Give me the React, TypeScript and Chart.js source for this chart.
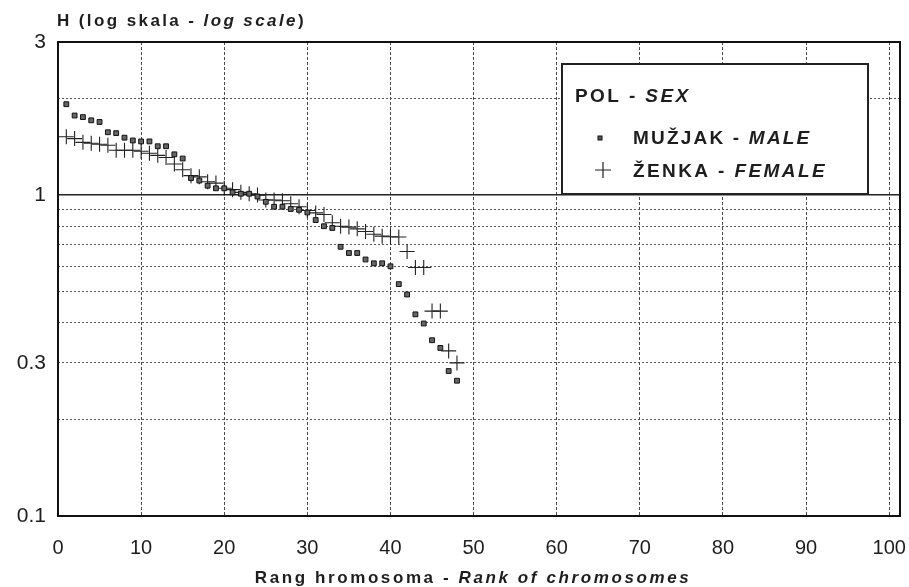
import React, { useEffect, useRef } from "react";
import { Chart, registerables } from "chart.js";

Chart.register(...registerables);

// ---- data ----
const ranks = [1, 2, 3, 4, 5, 6, 7, 8, 9, 10, 11, 12, 13, 14, 15, 16, 17, 18, 19, 20, 21, 22, 23, 24, 25, 26, 27, 28, 29, 30, 31, 32, 33, 34, 35, 36, 37, 38, 39, 40, 41, 42, 43, 44, 45, 46, 47, 48];

const maleH = [1.92, 1.77, 1.75, 1.71, 1.69, 1.57, 1.56, 1.51, 1.48, 1.47, 1.47, 1.42, 1.42, 1.34, 1.30, 1.13, 1.11, 1.07, 1.05, 1.05, 1.02, 1.01, 1.01, 0.99, 0.953, 0.92, 0.92, 0.905, 0.90, 0.883, 0.836, 0.80, 0.79, 0.69, 0.66, 0.66, 0.63, 0.613, 0.613, 0.60, 0.528, 0.49, 0.425, 0.398, 0.353, 0.334, 0.283, 0.264];

const femaleH = [1.52, 1.50, 1.46, 1.45, 1.44, 1.43, 1.38, 1.38, 1.38, 1.37, 1.35, 1.33, 1.31, 1.25, 1.20, 1.15, 1.14, 1.10, 1.09, 1.05, 1.04, 1.02, 1.01, 1.00, 0.965, 0.965, 0.96, 0.94, 0.92, 0.895, 0.88, 0.87, 0.82, 0.80, 0.795, 0.785, 0.77, 0.755, 0.745, 0.742, 0.74, 0.667, 0.595, 0.595, 0.435, 0.435, 0.327, 0.30];

const xTickValues = [0, 10, 20, 30, 40, 50, 60, 70, 80, 90, 100];
const yGridValues = [0.1, 0.2, 0.3, 0.4, 0.5, 0.6, 0.7, 0.8, 0.9, 1, 2, 3];
const yTickLabels = [0.1, 0.3, 1, 3];

const yTitleParts = [
  { text: "H (log skala - ", italic: false },
  { text: "log scale", italic: true },
  { text: ")", italic: false },
];
const xTitleParts = [
  { text: "Rang hromosoma - ", italic: false },
  { text: "Rank of chromosomes", italic: true },
];
const legendTitleParts = [
  { text: "POL - ", italic: false },
  { text: "SEX", italic: true },
];
const maleLabelParts = [
  { text: "MUŽJAK - ", italic: false },
  { text: "MALE", italic: true },
];
const femaleLabelParts = [
  { text: "ŽENKA - ", italic: false },
  { text: "FEMALE", italic: true },
];

const FONT = '"Liberation Sans", Arial, sans-serif';
const INK = "#1e1e1e";

type Part = { text: string; italic: boolean };

function drawParts(
  ctx: CanvasRenderingContext2D,
  parts: Part[],
  x: number,
  y: number,
  size: number,
  spacing: number,
  align: "left" | "center"
) {
  ctx.save();
  (ctx as any).letterSpacing = spacing + "px";
  ctx.textBaseline = "alphabetic";
  ctx.textAlign = "left";
  ctx.fillStyle = INK;
  const widths = parts.map((p) => {
    ctx.font = `${p.italic ? "italic " : ""}bold ${size}px ${FONT}`;
    return ctx.measureText(p.text).width;
  });
  const total = widths.reduce((a, b) => a + b, 0);
  let cx = align === "center" ? x - total / 2 : x;
  parts.forEach((p, i) => {
    ctx.font = `${p.italic ? "italic " : ""}bold ${size}px ${FONT}`;
    ctx.fillText(p.text, cx, y);
    cx += widths[i];
  });
  ctx.restore();
}

const decorPlugin = {
  id: "decor",
  afterDraw(chart: any) {
    const ctx: CanvasRenderingContext2D = chart.ctx;
    const a = chart.chartArea;
    // frame
    ctx.save();
    ctx.strokeStyle = "#111";
    ctx.lineWidth = 2;
    ctx.strokeRect(a.left, a.top, a.right - a.left, a.bottom - a.top);
    ctx.restore();

    // titles
    drawParts(ctx, yTitleParts, 57, 26, 17, 2.4, "left");
    drawParts(ctx, xTitleParts, 473, 583, 17, 2.6, "center");

    // legend box
    ctx.save();
    ctx.fillStyle = "#fff";
    ctx.fillRect(562, 64, 306, 130);
    ctx.strokeStyle = "#222";
    ctx.lineWidth = 2;
    ctx.strokeRect(562, 64, 306, 130);
    ctx.restore();

    drawParts(ctx, legendTitleParts, 575, 102, 19, 2.4, "left");
    drawParts(ctx, maleLabelParts, 633, 144, 19, 2.2, "left");
    drawParts(ctx, femaleLabelParts, 633, 177, 19, 2.4, "left");

    // legend markers
    ctx.save();
    ctx.fillStyle = "#555";
    ctx.strokeStyle = "#111";
    ctx.lineWidth = 1;
    ctx.fillRect(598, 136, 4, 4);
    ctx.strokeRect(598, 136, 4, 4);
    ctx.beginPath();
    ctx.moveTo(595, 170);
    ctx.lineTo(611, 170);
    ctx.moveTo(603, 162);
    ctx.lineTo(603, 178);
    ctx.lineWidth = 1.2;
    ctx.strokeStyle = "#222";
    ctx.stroke();
    ctx.restore();
  },
};

export default function App() {
  const ref = useRef<HTMLCanvasElement | null>(null);

  useEffect(() => {
    if (!ref.current) return;
    const chart = new Chart(ref.current, {
      type: "scatter",
      data: {
        datasets: [
          {
            label: "MUŽJAK - MALE",
            data: ranks.map((r, i) => ({ x: r, y: maleH[i] })),
            pointStyle: "rect",
            pointRadius: 3.4,
            backgroundColor: "#666",
            borderColor: "#111",
            borderWidth: 1,
            showLine: false,
          },
          {
            label: "ŽENKA - FEMALE",
            data: ranks.map((r, i) => ({ x: r, y: femaleH[i] })),
            pointStyle: "cross",
            pointRadius: 7.5,
            borderColor: "#222",
            borderWidth: 1.1,
            showLine: false,
          },
        ],
      },
      options: {
        animation: false,
        responsive: true,
        maintainAspectRatio: false,
        layout: { padding: { left: 0, top: 42, right: 9, bottom: 0 } },
        plugins: {
          legend: { display: false },
          tooltip: { enabled: false },
          title: { display: false },
        },
        scales: {
          x: {
            type: "linear",
            min: 0,
            max: 101.3,
            afterBuildTicks: (s: any) => {
              s.ticks = xTickValues.map((v) => ({ value: v }));
            },
            afterFit: (s: any) => {
              s.height = 71;
              s.paddingLeft = 0;
              s.paddingRight = 0;
            },
            grid: { color: "#4a4a4a", lineWidth: 1, drawTicks: false },
            border: { display: false, dash: [3, 2] },
            ticks: {
              padding: 20,
              autoSkip: false,
              maxRotation: 0,
              color: INK,
              font: { family: FONT, size: 20 },
              callback: (v: any) => String(v),
            },
          },
          y: {
            type: "logarithmic",
            min: 0.1,
            max: 3,
            afterBuildTicks: (s: any) => {
              s.ticks = yGridValues.map((v) => ({ value: v }));
            },
            afterFit: (s: any) => {
              s.width = 58;
              s.paddingTop = 0;
              s.paddingBottom = 0;
            },
            grid: {
              drawTicks: false,
              color: (c: any) => (c.tick && c.tick.value === 1 ? "#222" : "#555"),
              lineWidth: (c: any) => (c.tick && c.tick.value === 1 ? 1.6 : 1),
            },
            border: {
              display: false,
              dash: (c: any) => (c.tick && c.tick.value === 1 ? [] : [2, 2]),
            },
            ticks: {
              padding: 12,
              autoSkip: false,
              color: INK,
              font: { family: FONT, size: 21 },
              callback: (v: any) => (yTickLabels.includes(Number(v)) ? String(v) : ""),
            },
          },
        },
      },
      plugins: [decorPlugin],
    } as any);
    return () => chart.destroy();
  }, []);

  return (
    <div style={{ position: "absolute", left: 0, top: 0, width: 909, height: 587, background: "#fff" }}>
      <canvas ref={ref} />
    </div>
  );
}
